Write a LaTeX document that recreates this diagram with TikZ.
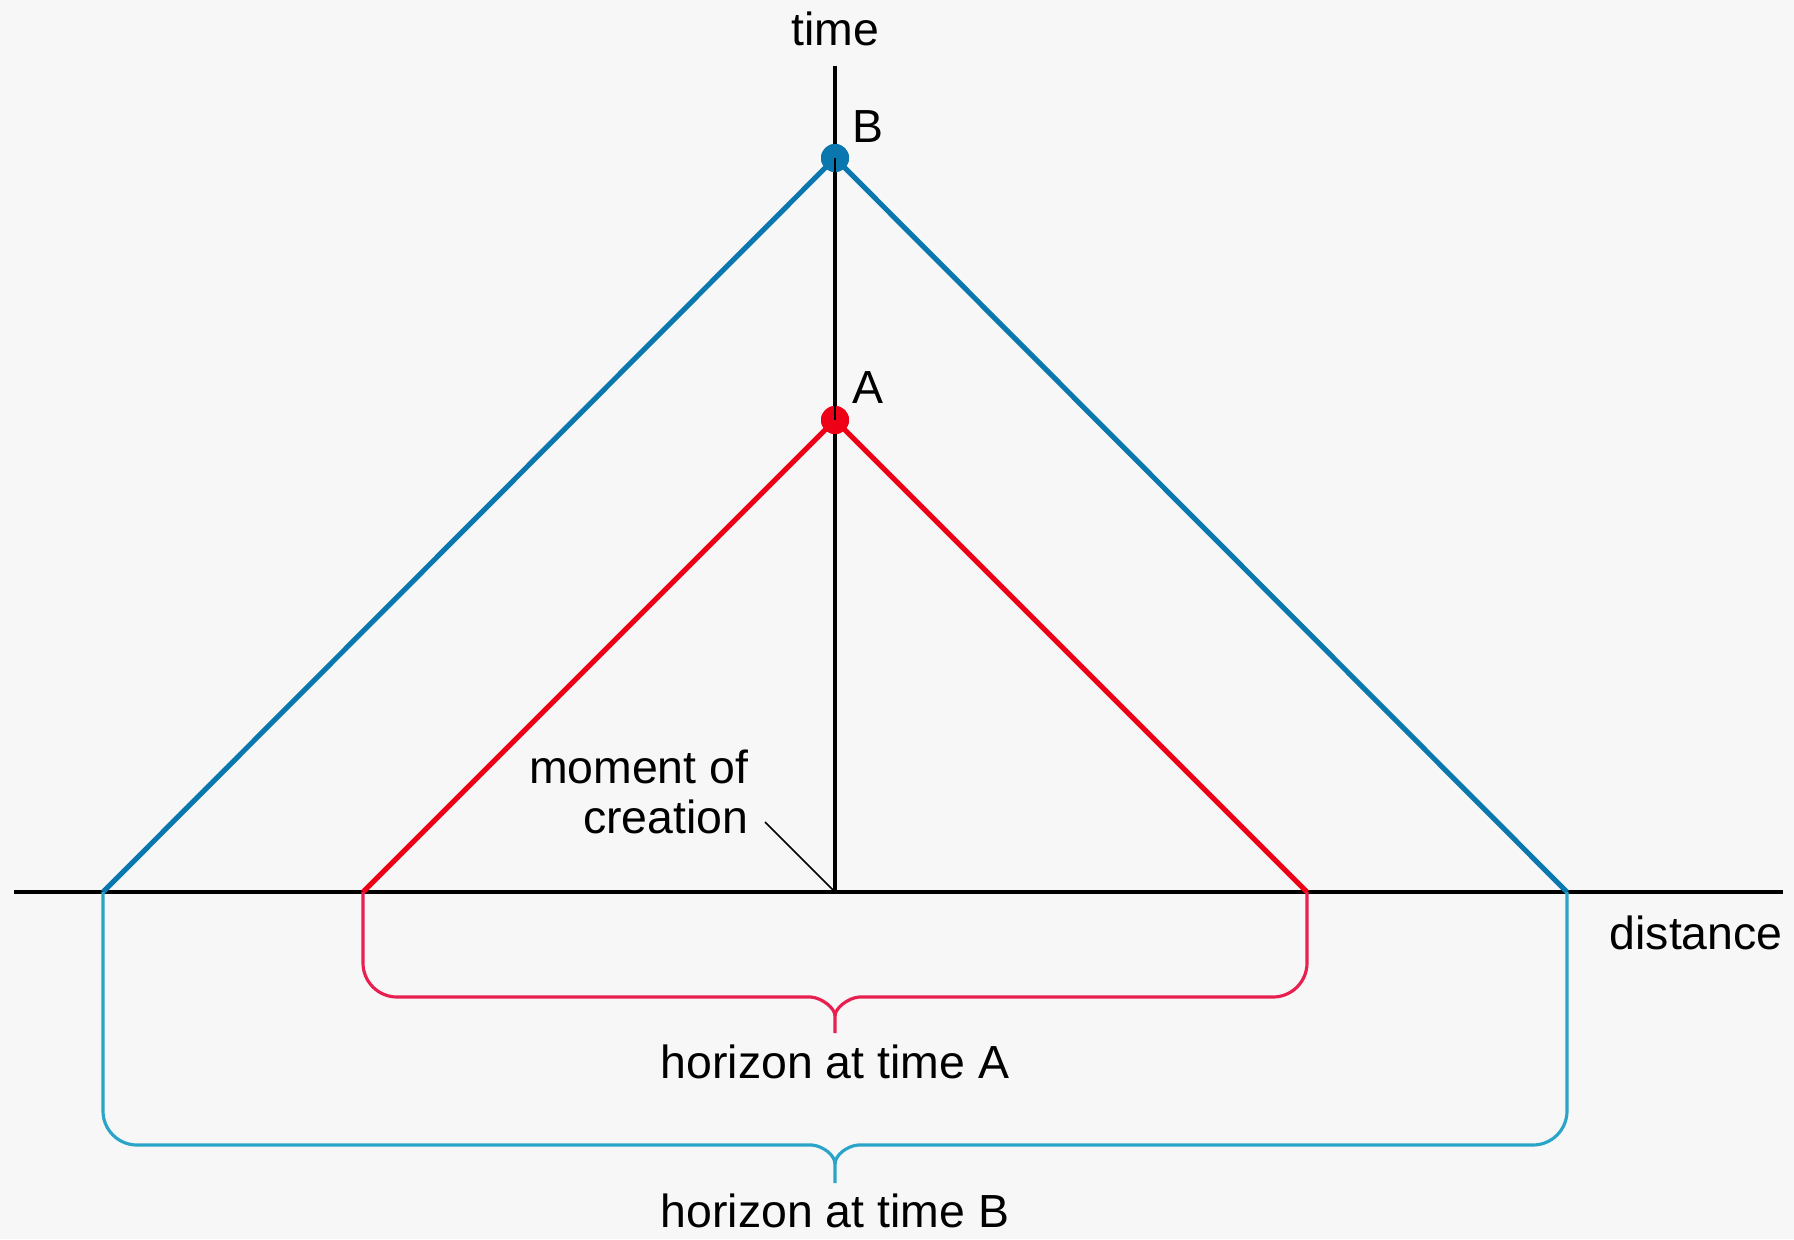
\documentclass[tikz,border=0pt]{standalone}
\usepackage{fontspec}
\setmainfont{Liberation Sans}
\definecolor{bg}{HTML}{F7F7F7}
\definecolor{bline}{HTML}{0A78AE}
\definecolor{bbrace}{HTML}{2AA5C8}
\definecolor{rline}{HTML}{EE0016}
\definecolor{rbrace}{HTML}{E82050}
\begin{document}
\begin{tikzpicture}[x=0.01cm,y=-0.01cm,
  axis/.style={line width=0.9pt,black},
  cone/.style={line width=1.45pt},
  bracepath/.style={line width=0.9pt,rounded corners=0.34cm},
  tippath/.style={line width=0.9pt,line join=round},
  lbl/.style={font=\fontsize{13.2pt}{15pt}\selectfont,inner sep=0pt,anchor=base},
  dot/.style={circle,inner sep=0pt,minimum size=0.28cm}]
\fill[bg] (0,0) rectangle (1794,1239);
\useasboundingbox (0,0) rectangle (1794,1239);
% coordinates
\coordinate (O) at (835,892);
\coordinate (T) at (835,66);
\coordinate (XL) at (14,892);
\coordinate (XR) at (1783,892);
\coordinate (BL) at (103,892);
\coordinate (BR) at (1567,892);
\coordinate (RL) at (363,892);
\coordinate (RR) at (1307,892);
% axes
\draw[axis] (XL) -- (XR);
\draw[axis] (T) -- (O);
% cones
\node[dot,fill=bline] (B) at (835,158) {};
\node[dot,fill=rline] (A) at (835,420) {};
\draw[cone,bline] (BL) -- (B.center) -- (BR);
\draw[cone,rline] (RL) -- (A.center) -- (RR);
\fill[bline] (B) circle (0.14cm);
\fill[rline] (A) circle (0.14cm);
\draw[axis,line width=0.6pt] (B.center) -- (A.center);
% braces
\coordinate (rt) at (835,1033);
\coordinate (bt) at (835,1183);
\coordinate (rl) at (811,997);
\coordinate (rr) at (859,997);
\coordinate (bl) at (812,1145);
\coordinate (br) at (858,1145);
\draw[bracepath,rbrace] (RL) -- (363,997) -- (rl);
\draw[bracepath,rbrace] (RR) -- (1307,997) -- (rr);
\draw[tippath,rbrace] (rl) .. controls (822,998) and (835,1008) .. (835,1016) -- (rt);
\draw[tippath,rbrace] (rr) .. controls (848,998) and (835,1008) .. (835,1016);
\draw[bracepath,bbrace] (BL) -- (103,1145) -- (bl);
\draw[bracepath,bbrace] (BR) -- (1567,1145) -- (br);
\draw[tippath,bbrace] (bl) .. controls (823,1146) and (835,1155) .. (835,1164) -- (bt);
\draw[tippath,bbrace] (br) .. controls (847,1146) and (835,1155) .. (835,1164);
% labels
\node[lbl] (time) at (835,45) {time};
\node[lbl,anchor=base west] (lB) at (852,142) {B};
\node[lbl,anchor=base west] (lA) at (852,403) {A};
\node[lbl,anchor=base west] (dist) at (1609,949) {distance};
\node[lbl,anchor=base east] (m1) at (749,783) {moment of};
\node[lbl,anchor=base east] (m2) at (749,833) {creation};
\coordinate (mp) at (765,822);
\draw[line width=0.45pt] (mp) -- (O);
\node[lbl] (hA) at (835,1078) {horizon at time A};
\node[lbl] (hB) at (835,1227) {horizon at time B};
\end{tikzpicture}
\end{document}
